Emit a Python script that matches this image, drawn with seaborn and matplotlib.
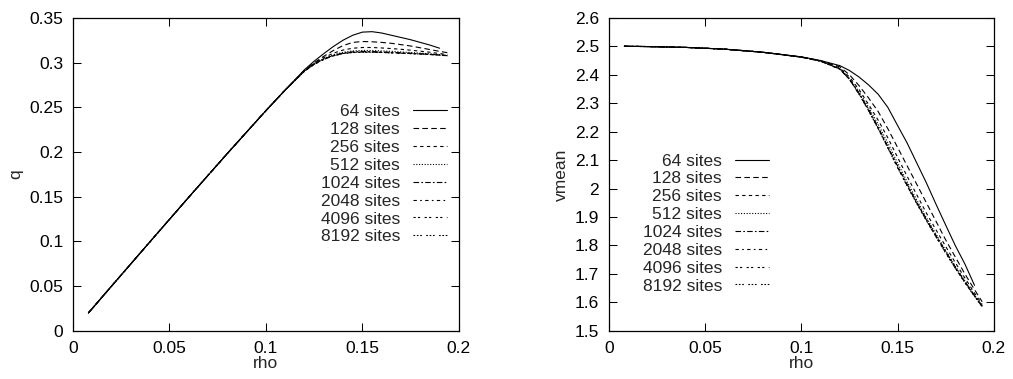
import numpy as np
import pandas as pd
import matplotlib
matplotlib.use('Agg')
import matplotlib.pyplot as plt
import seaborn as sns
from matplotlib.ticker import FormatStrFormatter


# density values (common grid), 64 sites stops one point earlier
rho = [0.008, 0.02, 0.04, 0.06, 0.08, 0.10, 0.11, 0.12, 0.125, 0.13, 0.135,
       0.14, 0.145, 0.15, 0.155, 0.16, 0.165, 0.17, 0.175, 0.18, 0.185, 0.19, 0.194]

sites = ['64 sites', '128 sites', '256 sites', '512 sites',
         '1024 sites', '2048 sites', '4096 sites', '8192 sites']

# flow q(rho)
q_64 = [0.020, 0.050, 0.0998, 0.1494, 0.1983, 0.2462, 0.2693, 0.2920, 0.3015, 0.3100, 0.3180,
        0.3250, 0.3305, 0.3340, 0.3345, 0.3330, 0.3305, 0.3280, 0.3255, 0.3225, 0.3195, 0.3160]
q_128 = [0.020, 0.050, 0.0998, 0.1494, 0.1983, 0.2462, 0.2693, 0.2912, 0.2998, 0.3070, 0.3135,
         0.3190, 0.3225, 0.3235, 0.3232, 0.3225, 0.3215, 0.3200, 0.3185, 0.3165, 0.3145, 0.3125, 0.3110]
q_256 = [0.020, 0.050, 0.0998, 0.1494, 0.1983, 0.2462, 0.2693, 0.2908, 0.2990, 0.3055, 0.3105,
         0.3140, 0.3160, 0.3168, 0.3168, 0.3163, 0.3156, 0.3148, 0.3138, 0.3127, 0.3115, 0.3100, 0.3090]
q_512 = [0.020, 0.050, 0.0998, 0.1494, 0.1983, 0.2462, 0.2693, 0.2906, 0.2985, 0.3045, 0.3088,
         0.3115, 0.3130, 0.3135, 0.3135, 0.3130, 0.3125, 0.3118, 0.3112, 0.3105, 0.3097, 0.3088, 0.3080]
q_1024 = [0.020, 0.050, 0.0998, 0.1494, 0.1983, 0.2462, 0.2693, 0.2905, 0.2982, 0.3040, 0.3080,
          0.3106, 0.3120, 0.3124, 0.3123, 0.3119, 0.3114, 0.3109, 0.3104, 0.3098, 0.3092, 0.3085, 0.3077]
q_2048 = [0.020, 0.050, 0.0998, 0.1494, 0.1983, 0.2462, 0.2693, 0.2904, 0.2981, 0.3037, 0.3077,
          0.3102, 0.3115, 0.3118, 0.3118, 0.3114, 0.3110, 0.3105, 0.3101, 0.3096, 0.3090, 0.3084, 0.3076]
q_4096 = [0.020, 0.050, 0.0998, 0.1494, 0.1983, 0.2462, 0.2693, 0.2904, 0.2980, 0.3036, 0.3076,
          0.3101, 0.3113, 0.3116, 0.3116, 0.3113, 0.3109, 0.3104, 0.3100, 0.3095, 0.3090, 0.3083, 0.3075]
q_8192 = [0.020, 0.050, 0.0998, 0.1494, 0.1983, 0.2462, 0.2693, 0.2904, 0.2980, 0.3035, 0.3075,
          0.3100, 0.3112, 0.3115, 0.3115, 0.3112, 0.3108, 0.3104, 0.3100, 0.3095, 0.3090, 0.3083, 0.3075]

# mean velocity vmean(rho)
v_64 = [2.500, 2.499, 2.496, 2.490, 2.479, 2.463, 2.450, 2.432, 2.415, 2.392, 2.364,
        2.331, 2.285, 2.222, 2.160, 2.090, 2.020, 1.945, 1.872, 1.800, 1.735, 1.660]
v_128 = [2.500, 2.499, 2.496, 2.490, 2.479, 2.462, 2.449, 2.428, 2.400, 2.362, 2.318,
         2.270, 2.210, 2.145, 2.080, 2.015, 1.950, 1.885, 1.820, 1.760, 1.700, 1.645, 1.602]
v_256 = [2.500, 2.499, 2.496, 2.490, 2.479, 2.462, 2.448, 2.424, 2.392, 2.348, 2.295,
         2.240, 2.178, 2.110, 2.043, 1.978, 1.914, 1.855, 1.797, 1.740, 1.686, 1.633, 1.593]
v_512 = [2.500, 2.499, 2.496, 2.490, 2.479, 2.462, 2.448, 2.421, 2.387, 2.340, 2.285,
         2.225, 2.160, 2.090, 2.024, 1.960, 1.898, 1.840, 1.783, 1.728, 1.676, 1.626, 1.589]
v_1024 = [2.500, 2.499, 2.496, 2.490, 2.479, 2.462, 2.448, 2.420, 2.385, 2.335, 2.278,
          2.215, 2.148, 2.080, 2.015, 1.952, 1.892, 1.835, 1.779, 1.724, 1.673, 1.624, 1.587]
v_2048 = [2.500, 2.499, 2.496, 2.490, 2.479, 2.462, 2.448, 2.420, 2.384, 2.333, 2.275,
          2.212, 2.145, 2.077, 2.012, 1.950, 1.890, 1.833, 1.777, 1.722, 1.671, 1.623, 1.586]
v_4096 = [2.500, 2.499, 2.496, 2.490, 2.479, 2.462, 2.448, 2.420, 2.384, 2.332, 2.274,
          2.210, 2.143, 2.075, 2.010, 1.948, 1.888, 1.831, 1.775, 1.721, 1.670, 1.622, 1.585]
v_8192 = [2.500, 2.499, 2.496, 2.490, 2.479, 2.462, 2.448, 2.420, 2.384, 2.332, 2.273,
          2.210, 2.142, 2.074, 2.009, 1.947, 1.887, 1.830, 1.774, 1.720, 1.669, 1.621, 1.585]

q_all = [q_64, q_128, q_256, q_512, q_1024, q_2048, q_4096, q_8192]
v_all = [v_64, v_128, v_256, v_512, v_1024, v_2048, v_4096, v_8192]

rows = []
for name, qs, vs in zip(sites, q_all, v_all):
    for r, q, v in zip(rho, qs, vs):
        rows.append({'sites': name, 'rho': r, 'q': q, 'vmean': v})
df = pd.DataFrame(rows)

dashes = {'64 sites': '', '128 sites': (5, 3), '256 sites': (3, 3), '512 sites': (1, 1.5),
          '1024 sites': (5, 2, 1.5, 2), '2048 sites': (3, 3, 1.5, 3),
          '4096 sites': (2, 2, 2, 4), '8192 sites': (1.5, 1.5, 1.5, 1.5, 1.5, 4)}

FS = 12.5

sns.set_style('ticks')
plt.rcParams['font.family'] = ['Liberation Sans', 'DejaVu Sans']
plt.rcParams['font.size'] = FS

fig = plt.figure(figsize=(10.13, 3.79), dpi=100)
ax1 = fig.add_axes([0.072, 0.127, 0.381, 0.826])
ax2 = fig.add_axes([0.601, 0.127, 0.380, 0.826])

for ax, col, ylim, yticks, legpos in [
        (ax1, 'q', (0, 0.35), np.arange(0, 0.351, 0.05), (0.969, 0.5)),
        (ax2, 'vmean', (1.5, 2.6), np.arange(1.5, 2.601, 0.1), (0.416, 0.343))]:
    sns.lineplot(data=df, x='rho', y=col, style='sites', dashes=dashes,
                 color='black', linewidth=0.8, ax=ax, sort=False, errorbar=None)
    ax.set_xlim(0, 0.2)
    ax.set_ylim(*ylim)
    ax.set_xticks([0, 0.05, 0.1, 0.15, 0.2])
    ax.set_yticks(yticks)
    ax.xaxis.set_major_formatter(FormatStrFormatter('%g'))
    ax.yaxis.set_major_formatter(FormatStrFormatter('%g'))
    ax.tick_params(direction='in', length=5.8, width=0.75, top=True, right=True,
                   labelsize=FS, colors='black')
    ax.tick_params(axis='x', pad=7)
    ax.tick_params(axis='y', pad=7)
    for s in ax.spines.values():
        s.set_linewidth(0.9)
        s.set_color('black')
    ax.set_xlabel('rho', labelpad=0)
    ax.set_ylabel(col, labelpad=4)
    leg = ax.legend(loc='center right', bbox_to_anchor=legpos, frameon=False,
                    markerfirst=False, handlelength=1.95, handletextpad=0.75,
                    labelspacing=0.155, borderpad=0, borderaxespad=0, fontsize=FS)

fig.savefig('out.png', dpi=100)
